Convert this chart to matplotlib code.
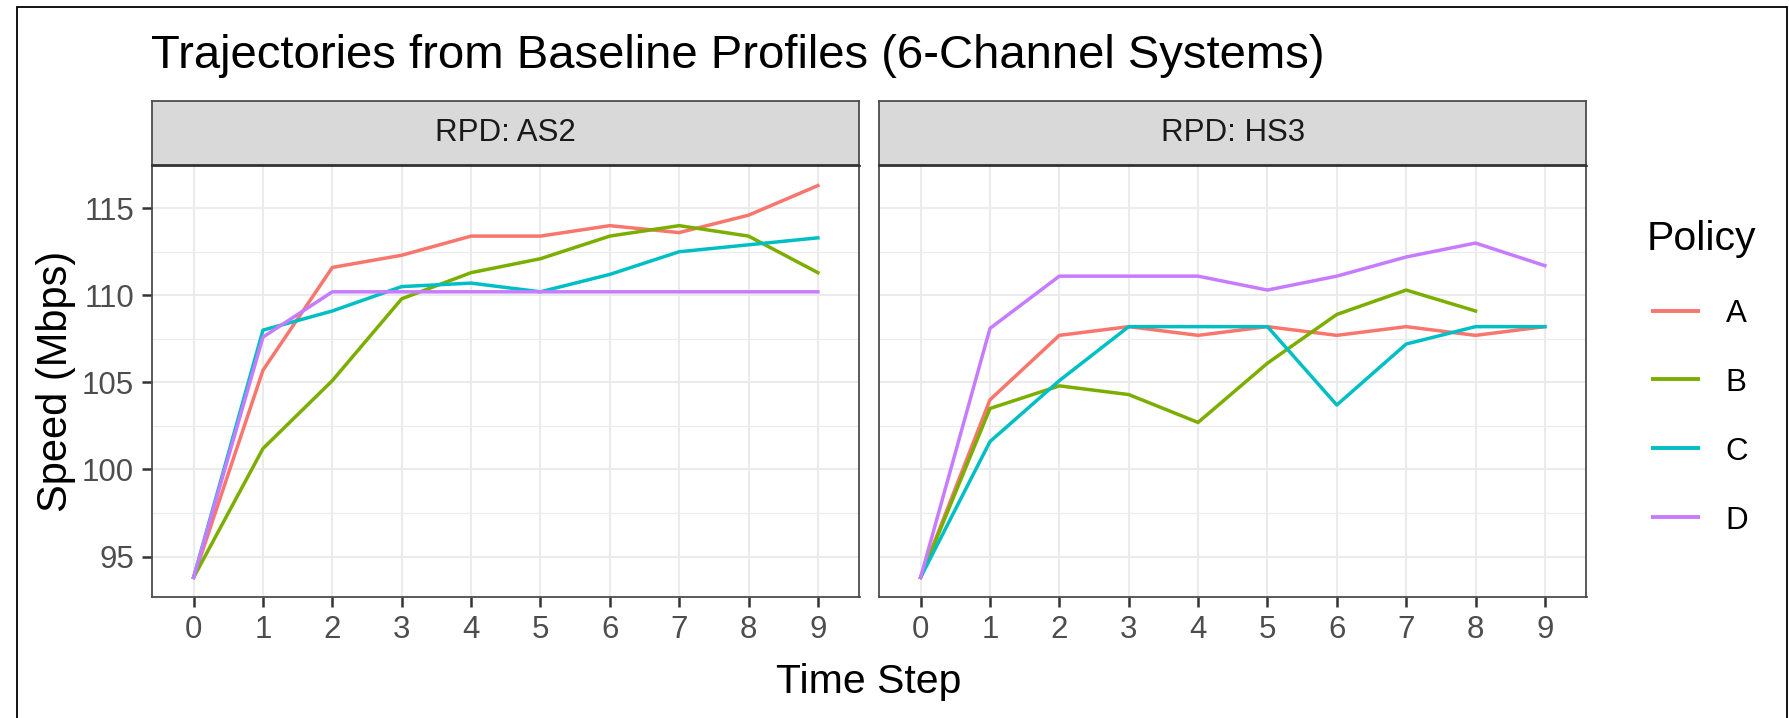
import numpy as np
import matplotlib
matplotlib.use("Agg")
import matplotlib.pyplot as plt
from matplotlib.lines import Line2D
from matplotlib.patches import Rectangle

plt.rcParams['font.family'] = ['Liberation Sans', 'DejaVu Sans']

# data
steps = list(range(10))
policies = ['A', 'B', 'C', 'D']
colors = ['#F8766D', '#7CAE00', '#00BFC4', '#C77CFF']
panels = ['RPD: AS2', 'RPD: HS3']

as2_a = [93.8, 105.7, 111.6, 112.3, 113.4, 113.4, 114.0, 113.6, 114.6, 116.3]
as2_b = [93.8, 101.2, 105.1, 109.8, 111.3, 112.1, 113.4, 114.0, 113.4, 111.3]
as2_c = [93.8, 108.0, 109.1, 110.5, 110.7, 110.2, 111.2, 112.5, 112.9, 113.3]
as2_d = [93.8, 107.6, 110.2, 110.2, 110.2, 110.2, 110.2, 110.2, 110.2, 110.2]

hs3_a = [93.8, 104.0, 107.7, 108.2, 107.7, 108.2, 107.7, 108.2, 107.7, 108.2]
hs3_b = [93.8, 103.5, 104.8, 104.3, 102.7, 106.1, 108.9, 110.3, 109.1, np.nan]
hs3_c = [93.8, 101.6, 105.1, 108.2, 108.2, 108.2, 103.7, 107.2, 108.2, 108.2]
hs3_d = [93.8, 108.1, 111.1, 111.1, 111.1, 110.3, 111.1, 112.2, 113.0, 111.7]

panel_data = [[as2_a, as2_b, as2_c, as2_d], [hs3_a, hs3_b, hs3_c, hs3_d]]
y_ticks = [95, 100, 105, 110, 115]
y_minor = [97.5, 102.5, 107.5, 112.5]

W, H = 1790, 718


def box(left, top, right, bottom):
    # pixel box -> figure fraction rect
    return [left / W, 1 - bottom / H, (right - left) / W, (bottom - top) / H]


fig = plt.figure(figsize=(W / 100, H / 100), dpi=100)

# shared y range with ggplot-like 5% expansion
all_vals = np.array(panel_data, dtype=float)
lo, hi = np.nanmin(all_vals), np.nanmax(all_vals)
pad = 0.05 * (hi - lo)

panel_x = [(152, 859.5), (879, 1586.5)]
for i, (x0, x1) in enumerate(panel_x):
    ax = fig.add_axes(box(x0, 166, x1, 597))
    ax.set_xlim(-0.6, 9.6)
    ax.set_ylim(lo - pad, hi + pad)
    ax.set_xticks(steps)
    ax.set_yticks(y_ticks)
    ax.set_yticks(y_minor, minor=True)
    ax.grid(True, which='major', color='#EBEBEB', lw=1.5, zorder=0)
    ax.grid(True, which='minor', axis='y', color='#EBEBEB', lw=0.8, zorder=0)
    ax.set_axisbelow(True)
    for name, vals, col in zip(policies, panel_data[i], colors):
        ax.plot(steps, vals, color=col, lw=2.5)
    for sp in ax.spines.values():
        sp.set_color('#4D4D4D')
        sp.set_linewidth(1.3)
    ax.spines['top'].set_color('#333333')
    ax.tick_params(axis='both', which='major', direction='out', length=7,
                   width=1.8, color='#333333', labelsize=22.5,
                   labelcolor='#4D4D4D', pad=6)
    ax.tick_params(axis='y', which='minor', length=0)
    if i > 0:
        ax.tick_params(axis='y', which='major', length=0, labelleft=False)

    # facet strip
    sax = fig.add_axes(box(x0, 101, x1, 164.5))
    sax.set_facecolor('#D9D9D9')
    sax.set_xticks([])
    sax.set_yticks([])
    for sp in sax.spines.values():
        sp.set_color('#4D4D4D')
        sp.set_linewidth(1.3)
    sax.spines['bottom'].set_color('#333333')
    sax.text(0.5, 0.5, panels[i], ha='center', va='center',
             fontsize=22.5, color='#1A1A1A', transform=sax.transAxes)

# titles
fig.text(151 / W, 1 - 68 / H, 'Trajectories from Baseline Profiles (6-Channel Systems)',
         fontsize=34, ha='left', va='baseline')
fig.text(56 / W, 1 - 381.5 / H, 'Speed (Mbps)', fontsize=30, rotation=90,
         ha='center', va='center')
fig.text(869 / W, 1 - 693 / H, 'Time Step', fontsize=29.5, ha='center',
         va='baseline')

# legend
fig.text(1647 / W, 1 - 250 / H, 'Policy', fontsize=29.5, ha='left', va='baseline')
key_y = [311, 379.3, 448.3, 517.3]
for name, col, ky in zip(policies, colors, key_y):
    fig.add_artist(Line2D([1651 / W, 1700 / W], [1 - ky / H, 1 - ky / H],
                          color=col, lw=2.8, solid_capstyle='butt',
                          transform=fig.transFigure))
    fig.text(1725.5 / W, 1 - (ky + 11.5) / H, name, fontsize=22.5,
             ha='left', va='baseline')

# outer frame
fig.add_artist(Rectangle((17 / W, -0.1), (1787 - 17) / W, 1.1 - 7 / H,
                         fill=False, edgecolor='black', lw=1.3,
                         transform=fig.transFigure))

fig.savefig('out.png', dpi=100)
